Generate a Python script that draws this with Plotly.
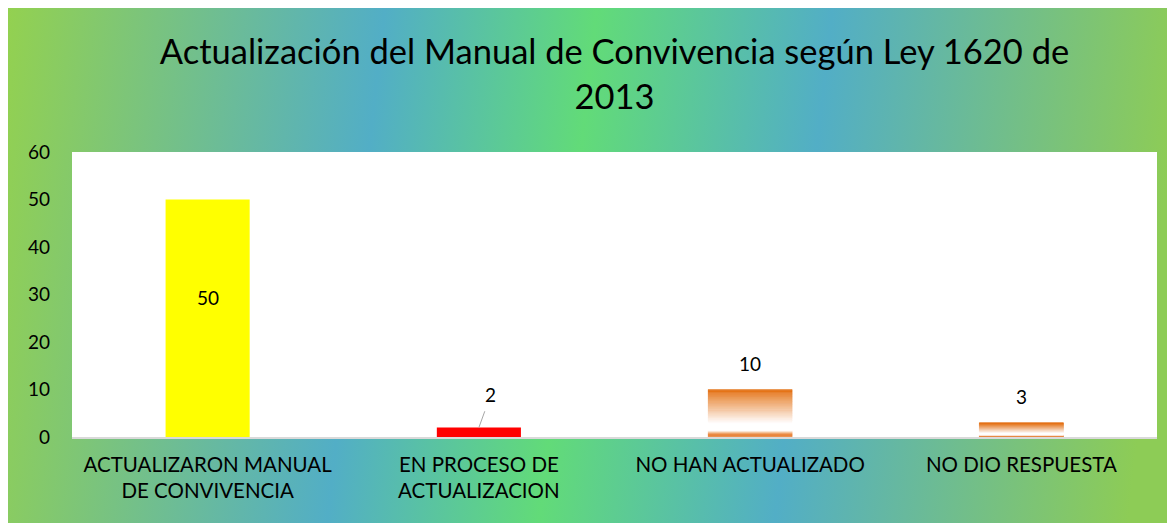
import base64
import plotly.graph_objects as go

# ---- data ----
categories = ["ACTUALIZARON MANUAL DE CONVIVENCIA", "EN PROCESO DE ACTUALIZACION",
              "NO HAN ACTUALIZADO", "NO DIO RESPUESTA"]
tick_labels = ["ACTUALIZARON MANUAL<br>DE CONVIVENCIA", "EN PROCESO DE<br>ACTUALIZACION",
               "NO HAN ACTUALIZADO", "NO DIO RESPUESTA"]
values = [50, 2, 10, 3]
y_ticks = [0, 10, 20, 30, 40, 50, 60]
title_text = "Actualización del Manual de Convivencia según Ley 1620 de<br>2013"

FONT = "Lato"
BAR_W = 0.31

fig = go.Figure()

# solid bars
fig.add_trace(go.Bar(x=categories[:1], y=values[:1], marker=dict(color="#FFFF00", line=dict(width=0)),
                     width=BAR_W, hoverinfo="skip"))
fig.add_trace(go.Bar(x=categories[1:2], y=values[1:2], marker=dict(color="#FF0000", line=dict(width=0)),
                     width=BAR_W, hoverinfo="skip"))

# gradient bars (orange -> white -> orange stripe), drawn as stacked slices of the value
grad_stops = [(0.0, (228, 108, 10)), (0.70, (255, 255, 255)), (0.86, (255, 255, 255)),
              (0.90, (246, 190, 150)), (0.95, (230, 115, 30)), (1.0, (236, 145, 80))]


def grad_color(t):
    for (t0, c0), (t1, c1) in zip(grad_stops[:-1], grad_stops[1:]):
        if t0 <= t <= t1:
            f = (t - t0) / (t1 - t0) if t1 > t0 else 0
            c = [round(a + (b - a) * f) for a, b in zip(c0, c1)]
            return "rgb(%d,%d,%d)" % tuple(c)
    return "rgb(%d,%d,%d)" % grad_stops[-1][1]


N = 60
gcats = categories[2:]
gvals = values[2:]
for k in range(N):
    t = 1 - (k + 0.5) / N
    col = grad_color(t)
    fig.add_trace(go.Bar(x=gcats, y=[v / N for v in gvals], base=[v * k / N for v in gvals],
                         width=BAR_W, marker=dict(color=col, line=dict(color=col, width=0.3)),
                         hoverinfo="skip"))

# data labels
fig.add_annotation(x=categories[0], y=values[0] * 0.588, text=str(values[0]), showarrow=False,
                   font=dict(family=FONT, size=19, color="#000"))
fig.add_annotation(x=categories[1], y=values[1], text=str(values[1]), showarrow=True,
                   arrowhead=0, arrowwidth=1, arrowcolor="#A6A6A6", ax=12, ay=-33,
                   startstandoff=4, font=dict(family=FONT, size=19, color="#000"))
for c, v in zip(categories[2:], values[2:]):
    fig.add_annotation(x=c, y=v, text=str(v), showarrow=False, yanchor="bottom", yshift=13,
                       font=dict(family=FONT, size=19, color="#000"))

# background gradient
stops = [(0.0, "#93D150"), (0.32, "#52AEC6"), (0.5, "#62DB78"), (0.70, "#52AEC6"), (1.0, "#8DCC56")]
stop_svg = "".join('<stop offset="%g" stop-color="%s"/>' % s for s in stops)
svg = ('<svg xmlns="http://www.w3.org/2000/svg" width="1175" height="523" viewBox="0 0 1175 523" '
       'preserveAspectRatio="none"><defs><linearGradient id="g" x1="0" y1="0" x2="1" y2="0.05">'
       + stop_svg + '</linearGradient></defs><rect width="1175" height="523" fill="url(#g)"/></svg>')
uri = "data:image/svg+xml;base64," + base64.b64encode(svg.encode()).decode()

W, H = 1175, 523
ml, mr, mt, mb = 64, 26, 144, 94
pw, ph = W - ml - mr, H - mt - mb
fig.add_layout_image(source=uri, xref="paper", yref="paper", x=-ml / pw, y=1 + mt / ph,
                     sizex=W / pw, sizey=H / ph, xanchor="left", yanchor="top",
                     sizing="stretch", layer="below")
fig.add_shape(type="rect", xref="x domain", yref="y domain", x0=0, x1=1, y0=0, y1=1,
              fillcolor="white", line=dict(width=0), layer="below")

fig.update_layout(
    width=W, height=H, margin=dict(l=ml, r=mr, t=mt, b=mb),
    paper_bgcolor="white", plot_bgcolor="rgba(0,0,0,0)",
    barmode="overlay", showlegend=False,
    title=dict(text=title_text, x=0.5, xanchor="center", xref="paper",
               y=1 - 56 / H, yanchor="middle", yref="container",
               font=dict(family=FONT, size=34.5, color="#000")),
    xaxis=dict(categoryorder="array", categoryarray=categories, tickvals=categories, ticktext=tick_labels,
               showgrid=False, zeroline=False, showline=True, linecolor="#D9D9D9", linewidth=2,
               ticks="", ticklabelstandoff=8, tickfont=dict(family=FONT, size=20.5, color="#000")),
    yaxis=dict(range=[0, 60], tickvals=y_ticks, showgrid=False, zeroline=False, showline=False,
               ticks="", ticklabelstandoff=21, tickfont=dict(family=FONT, size=19, color="#000")),
)

fig.write_html("out.html")
